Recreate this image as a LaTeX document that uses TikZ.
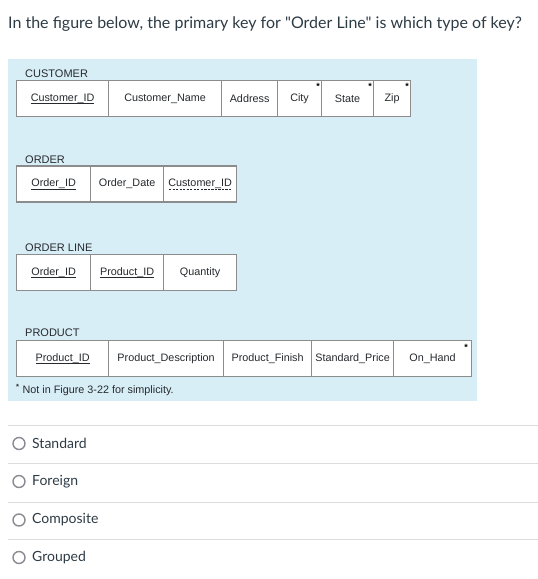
\documentclass[tikz,border=0pt]{standalone}
\usepackage{fontspec}
\setmainfont{Lato}[Ligatures=TeXOff]
\newfontfamily\figfont{Liberation Sans}
\definecolor{canvastext}{HTML}{2D3B45}
\definecolor{figtext}{HTML}{262A2E}
\definecolor{figbg}{RGB}{216,238,246}
\definecolor{cellline}{HTML}{8C8C8C}
\definecolor{rulegray}{HTML}{DCDCDC}
\definecolor{radiogray}{HTML}{8B8B94}
% key underlines: solid (primary) and dashed (foreign)
\newcommand\pkul[1]{\setbox0\hbox{#1}\copy0\llap{\smash{\rule[-2.6pt]{\wd0}{0.6pt}}}}
\newcommand\fkul[1]{\setbox0\hbox{#1}\copy0\llap{\smash{\raisebox{-2.6pt}{\hbox to\wd0{\xleaders\hbox to 3.5pt{\hss\rule{2.2pt}{0.6pt}\hss}\hfill}}}}}
\begin{document}
\begin{tikzpicture}[x=1pt,y=-1pt,
 cell/.style={draw=cellline,line width=1.2pt,fill=white,minimum height=36pt,inner sep=0pt,
   anchor=west,font=\figfont\fontsize{10.8}{12}\selectfont,text=figtext},
 tname/.style={anchor=base west,inner sep=0pt,font=\figfont\fontsize{11}{12}\selectfont,text=figtext},
 star/.style={inner sep=0pt,font=\figfont\bfseries\fontsize{9}{9}\selectfont},
 radio/.style={circle,draw=radiogray,line width=1.4pt,minimum size=12pt,inner sep=0pt},
 answer/.style={anchor=west,inner sep=0pt,font=\fontsize{14}{16}\selectfont,text=canvastext},
 sep/.style={draw=rulegray,line width=1pt},
 ]
\useasboundingbox (0,0) rectangle (538,579);
\node[anchor=base west,inner sep=0pt,font=\fontsize{16}{18}\selectfont,text=canvastext] (question) at (8,28)
  {In the figure below, the primary key for "Order Line" is which type of key?};
\fill[figbg] (8,59) rectangle (477,401);

% CUSTOMER
\node[tname] (custname) at (25,77) {CUSTOMER};
\foreach \n/\x/\w/\t in {1/16/92/{\pkul{Customer\_ID}},2/108/113/{Customer\_Name},3/221/56/{Address},
   4/277/44/{City},5/321/52/{State},6/373/37/{Zip}}
 \node[cell,minimum width=\w pt] (cust\n) at (\x,98.5) {\t};
\node[star] (citystar) at ([shift={(-4pt,-7pt)}]cust4.north east) {*};
\node[star] (statestar) at ([shift={(-4pt,-7pt)}]cust5.north east) {*};
\node[star] (zipstar) at ([shift={(-4pt,-7pt)}]cust6.north east) {*};

% ORDER
\node[tname] (ordname) at (25,163) {ORDER};
\foreach \n/\x/\w/\t in {1/16/74/{\pkul{Order\_ID}},2/90/73/{Order\_Date},3/163/73/{\fkul{Customer\_ID}}}
 \node[cell,minimum width=\w pt] (ord\n) at (\x,184) {\t};

% ORDER LINE
\node[tname] (linename) at (25,251) {ORDER LINE};
\foreach \n/\x/\w/\t in {1/16/74/{\pkul{Order\_ID}},2/90/73/{\pkul{Product\_ID}},3/163/73/{Quantity}}
 \node[cell,minimum width=\w pt] (line\n) at (\x,272.5) {\t};

% PRODUCT
\node[tname] (prodname) at (25,336) {PRODUCT};
\foreach \n/\x/\w/\t in {1/16/92/{\pkul{Product\_ID}},2/108/115/{Product\_Description},3/223/88/{Product\_Finish},
   4/311/82/{Standard\_Price},5/393/78/{On\_Hand}}
 \node[cell,minimum width=\w pt] (prod\n) at (\x,358.5) {\t};
\node[star] (handstar) at ([shift={(-6pt,-7pt)}]prod5.north east) {*};
\node[anchor=base west,inner sep=0pt,font=\figfont\fontsize{10.8}{12}\selectfont,text=figtext] (footnote) at (16,393)
  {\textsuperscript{\bfseries*} Not in Figure 3-22 for simplicity.};

% answers
\foreach \y in {425,463,502,539}
 \draw[sep] (8,\y) -- (538,\y);
\foreach \n/\y/\t in {1/443.5/Standard,2/481.5/Foreign,3/520/Composite,4/557.5/Grouped} {
 \node[radio] (radio\n) at (19,\y) {};
 \node[answer] (answer\n) at (32,\y) {\t};
}
\end{tikzpicture}
\end{document}
